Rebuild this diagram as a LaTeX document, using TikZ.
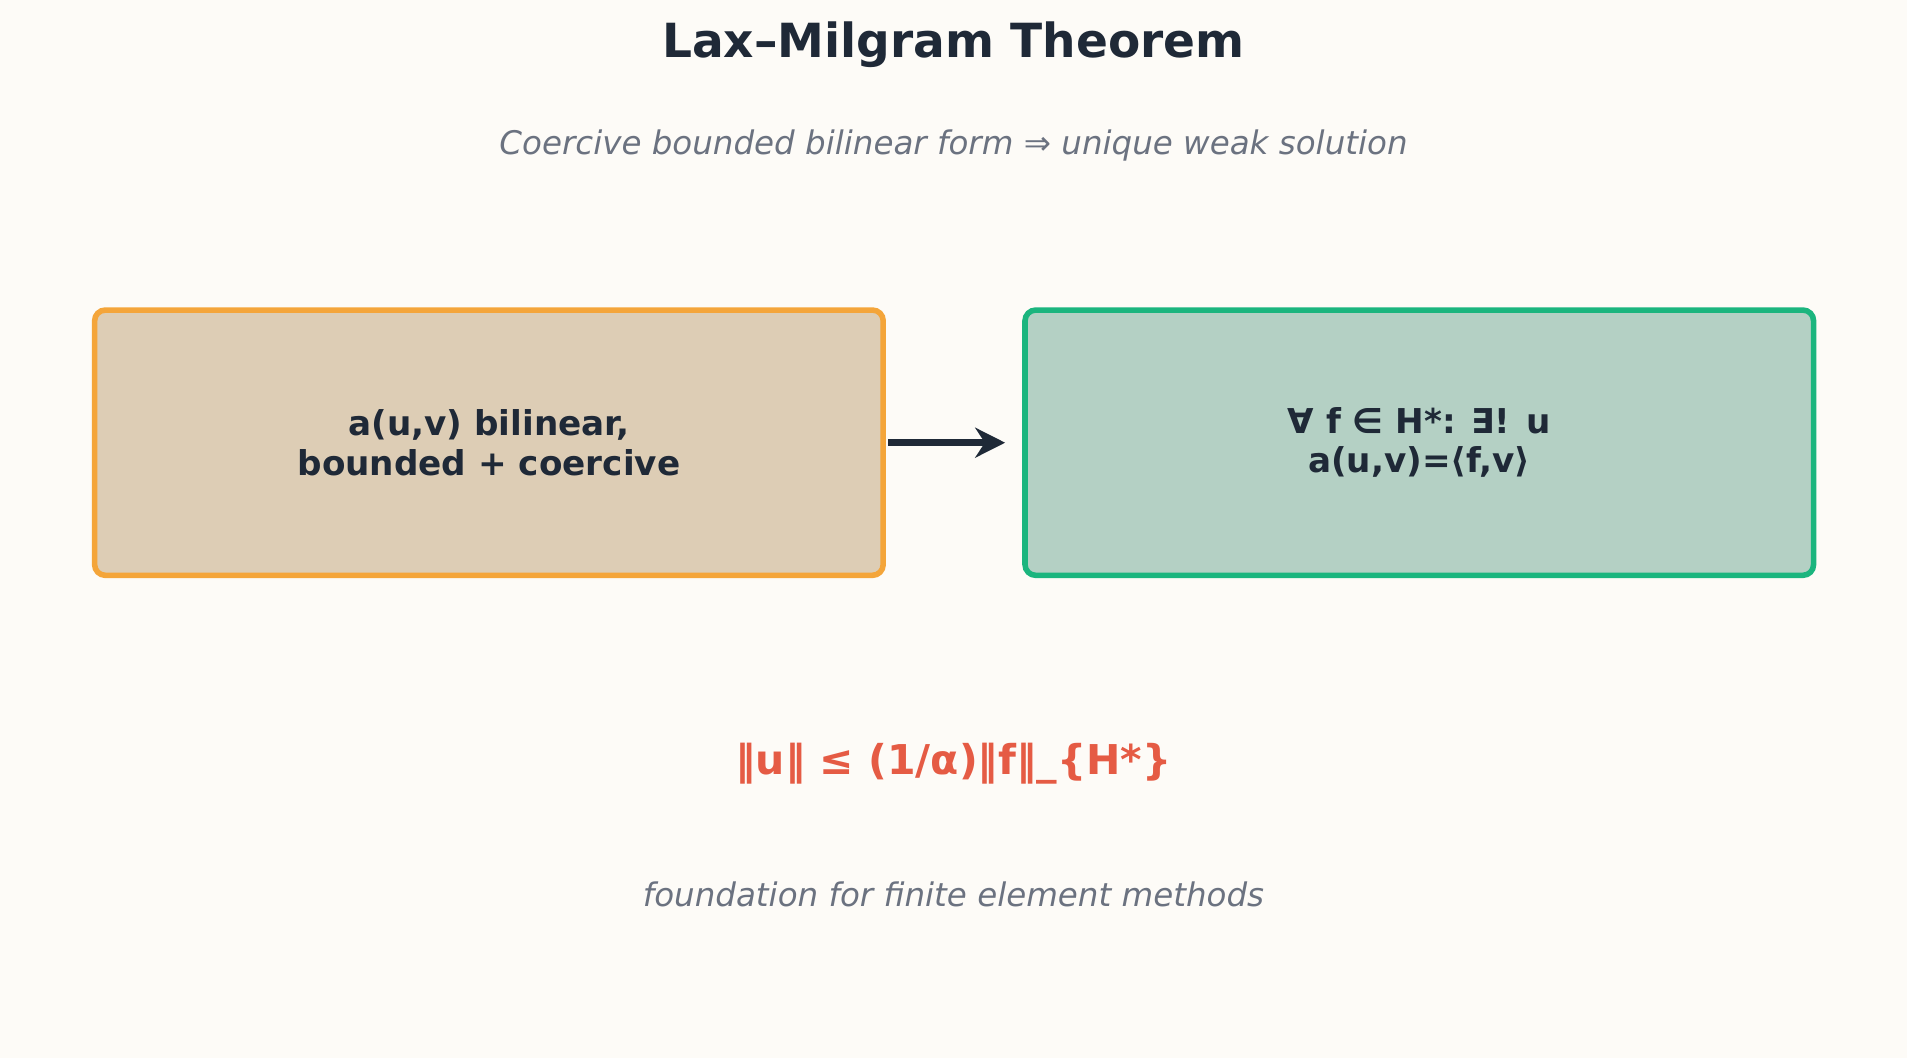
\documentclass[tikz,border=0pt]{standalone}
\usepackage{fontspec}
\setmainfont{DejaVu Sans}
\usetikzlibrary{positioning,arrows.meta}
\definecolor{bgcol}{HTML}{FDFBF7}
\definecolor{inkcol}{HTML}{1F2937}
\definecolor{graycol}{HTML}{6B7280}
\definecolor{redcol}{HTML}{E55B44}
\definecolor{hypfill}{HTML}{DDCDB5}
\definecolor{hypline}{HTML}{F4A53A}
\definecolor{concfill}{HTML}{B4D0C4}
\definecolor{concline}{HTML}{1BB57E}
\tikzset{
  box/.style={draw, line width=1.3pt, rounded corners=2.5pt, minimum width=6.48cm,
    minimum height=2.18cm, align=center, font=\fontsize{8}{9.2}\selectfont\bfseries,
    text=inkcol},
  note/.style={font=\fontsize{7.6}{9}\selectfont\itshape, text=graycol}
}
\begin{document}
\begin{tikzpicture}[x=0.01cm,y=-0.01cm]
  \fill[bgcol] (0,0) rectangle (1568,870);
  %titolo
  \node[font=\fontsize{11}{13}\selectfont\bfseries, text=inkcol] (title) at (784,37) {Lax–Milgram Theorem};
  \node[note] (sub) at (784,120) {Coercive bounded bilinear form ⇒ unique weak solution};
  %riquadri
  \node[box, draw=hypline, fill=hypfill] (hyp) at (402,364) {a(u,v) bilinear,\\bounded + coercive};
  \node[box, draw=concline, fill=concfill] (conc) at (1167,364) {∀ f ∈ H*: ∃! u\\a(u,v)=⟨f,v⟩};
  \draw[inkcol, line width=1.5pt, -{Stealth[length=7pt,width=7pt]}] (hyp.east) ++(2,0) -- ([xshift=-4]conc.west);
  %formula
  \node[font=\fontsize{9.6}{11}\selectfont\bfseries, text=redcol] (bound) at (784,628) {‖u‖ ≤ (1/α)‖f‖\_\{H*\}};
  \node[note] (foot) at (784,735) {foundation for finite element methods};
\end{tikzpicture}
\end{document}
